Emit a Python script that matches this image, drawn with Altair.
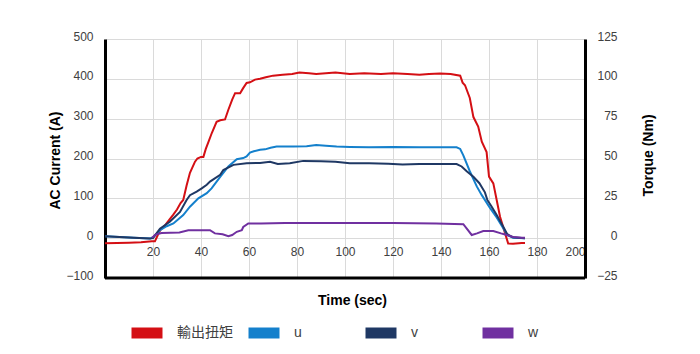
import altair as alt
import pandas as pd

SERIES = ["輸出扭矩", "u", "v", "w"]
COLORS = ["#D40F14", "#1480CC", "#1F3864", "#7030A0"]

# Torque (Nm) - right axis
tq_t = [0, 5, 10, 15, 19.5, 20.8, 22, 23, 25, 27, 28.3, 30, 31.5, 32.6, 34, 35.4, 37.5, 38.5, 40, 41,
        42, 43, 44.5, 46.5, 48, 50, 51.4, 53, 54.2, 56.3, 57.5, 59, 60.4, 62.5, 64.6, 67, 70, 74, 78, 81,
        85, 88, 92, 96, 102, 108, 115, 120, 126, 131, 135, 139.6, 144, 148, 149, 150, 152, 153.5, 155.5, 157,
        159, 160, 161.8, 163.2, 164.6, 166.7, 168, 170, 173.6, 175]
tq_v = [-3.2, -3, -2.8, -2.5, -2, -2, 2, 5, 8, 12, 14.5, 18, 22, 24, 33, 41, 48, 50, 51, 51,
        56, 60, 66, 73, 74, 74.5, 80.6, 87, 91, 91, 94, 97.4, 97.8, 99.5, 100, 101, 102, 102.5, 103, 104,
        103.5, 103, 103.5, 104, 103, 103.5, 103, 103.5, 103, 102.6, 103, 103.3, 103, 102, 97.6, 96, 88, 76, 70, 60.6,
        54, 38.6, 34.4, 24, 13.4, 3, -3.3, -3.5, -3, -3]

# Phase currents (A) - left axis
u_t = [0, 6, 12, 18.75, 20, 22.9, 25.7, 28.5, 32.6, 35.4, 38.9, 42.4, 44.4, 48, 51.4, 54.9, 57.6, 59, 60.4, 62,
       64.6, 66.7, 69, 71.5, 78.5, 84, 88, 92, 96.5, 102, 110, 120, 131, 140, 146.5, 148, 149.3, 152, 154.9, 157,
       160.4, 163.2, 166, 167.6, 170, 175]
u_v = [5, 3, 1, -1, 2, 20, 30, 37, 58, 79, 100, 113, 125, 154, 180, 198, 201, 205, 215, 218,
       222, 223, 227, 230, 230, 231, 234, 232, 230, 229, 228, 229, 228, 228, 228, 224, 208, 168, 130, 108,
       76, 52, 24, 8, 1, 0]

v_t = [0, 6, 12, 18.75, 20, 22.9, 27, 31.25, 34, 35.4, 38.2, 40.3, 42.4, 43.75, 48, 49.3, 53.5, 59, 64.6, 68.75,
       72, 77, 82.6, 90, 96, 102, 110, 118, 124, 131, 140, 146.5, 148.6, 150.7, 153.5, 156, 158.3, 159.3, 161, 163.2,
       166, 167.6, 170, 175]
v_v = [5, 3, 1, -1, 0, 24, 41, 66, 96, 108, 117, 125, 134, 142, 159, 171, 184, 188, 189, 192,
       186, 188, 194, 193, 192, 188, 188, 187, 185, 186, 186, 186, 180, 168, 154, 138, 115, 96, 80, 58,
       28, 10, 2, 0]

w_t = [19.5, 20, 21, 23.6, 31, 34.7, 43.75, 45.8, 49, 51.4, 53, 54.9, 57, 57.6, 59.7, 65, 75, 90, 100, 120,
       138, 149.3, 152.8, 155, 157.6, 161.8, 165, 167.4, 170, 173.6, 175]
w_v = [2, 3, 9, 13, 14, 20, 20, 12, 10, 5, 8, 16, 20, 28, 37, 37, 38, 38, 38, 38,
       37, 35, 8, 12, 18, 18, 12, 8, 3, 1, 1]

X_TICKS = [20, 40, 60, 80, 100, 120, 140, 160, 180, 200]
Y_TICKS = [-100, 0, 100, 200, 300, 400, 500]
T_TICKS = [-25, 0, 25, 50, 75, 100, 125]

cur_df = pd.concat([
    pd.DataFrame({"t": u_t, "value": u_v, "series": "u"}),
    pd.DataFrame({"t": v_t, "value": v_v, "series": "v"}),
    pd.DataFrame({"t": w_t, "value": w_v, "series": "w"}),
])
tq_df = pd.DataFrame({"t": tq_t, "torque": tq_v, "series": "輸出扭矩"})

W, H = 480, 239
FONT = "Liberation Sans, Arial, sans-serif"
CJK = "Liberation Sans, Noto Sans CJK TC, sans-serif"

color = alt.Color(
    "series:N",
    scale=alt.Scale(domain=SERIES, range=COLORS),
    legend=alt.Legend(
        orient="none", legendX=21, legendY=273, direction="horizontal", title=None,
        symbolType="stroke", symbolSize=961, symbolStrokeWidth=11, symbolOpacity=1,
        labelFontSize=14, labelColor="#404040", labelFont=CJK, labelOffset=9,
        columnPadding=-7, gridAlign="all", padding=0,
    ),
)

x_enc = alt.X(
    "t:Q",
    scale=alt.Scale(domain=[0, 200], nice=False),
    axis=alt.Axis(
        values=X_TICKS, title="Time (sec)", domain=False, ticks=False, offset=-40,
        labelPadding=8, labelFontSize=12, labelColor="#404040", labelFont=FONT,
        grid=True, gridColor="#DADADA", gridWidth=1,
        titleFont=FONT, titleFontSize=14, titleFontWeight="bold", titleColor="#000000",
        titleX=247, titleY=62, titleBaseline="middle",
    ),
)

current = alt.Chart(cur_df).mark_line(strokeWidth=2).encode(
    x=x_enc,
    y=alt.Y(
        "value:Q",
        scale=alt.Scale(domain=[-100, 500], nice=False),
        axis=alt.Axis(
            values=Y_TICKS, title="AC Current (A)", orient="left", ticks=False,
            domainColor="#000000", domainWidth=3, labelPadding=12, labelOffset=-3,
            labelFontSize=12, labelColor="#404040", labelFont=FONT,
            grid=True, gridColor="#DADADA", gridWidth=1,
            titleFont=FONT, titleFontSize=14, titleFontWeight="bold", titleColor="#000000",
            titleX=-50, titleY=121, titleBaseline="middle", titleAngle=270,
        ),
    ),
    color=color,
)

torque = alt.Chart(tq_df).mark_line(strokeWidth=2).encode(
    x=alt.X("t:Q", scale=alt.Scale(domain=[0, 200], nice=False)),
    y=alt.Y(
        "torque:Q",
        scale=alt.Scale(domain=[-25, 125], nice=False),
        axis=alt.Axis(
            values=T_TICKS, title="Torque (Nm)", orient="right", ticks=False, grid=False,
            domainColor="#000000", domainWidth=3, labelPadding=32, labelAlign="right",
            labelOffset=-3, labelFontSize=12, labelColor="#404040", labelFont=FONT,
            titleFont=FONT, titleFontSize=14, titleFontWeight="bold", titleColor="#000000",
            titleX=63, titleY=116, titleBaseline="middle", titleAngle=270,
        ),
    ),
    color=color,
)

border = alt.Chart(pd.DataFrame({"a": [0]})).mark_rule(color="#000000", strokeWidth=3).encode(
    x=alt.value(0), x2=alt.value(W), y=alt.value(H)
)

chart = alt.layer(torque, current, border).resolve_scale(y="independent").properties(
    width=W, height=H,
    autosize=alt.AutoSizeParams(type="none"),
    padding={"left": 105, "top": 39, "right": 115, "bottom": 76},
).configure_view(stroke=None)

chart.save("out.html", embed_options={"renderer": "svg", "actions": False})
